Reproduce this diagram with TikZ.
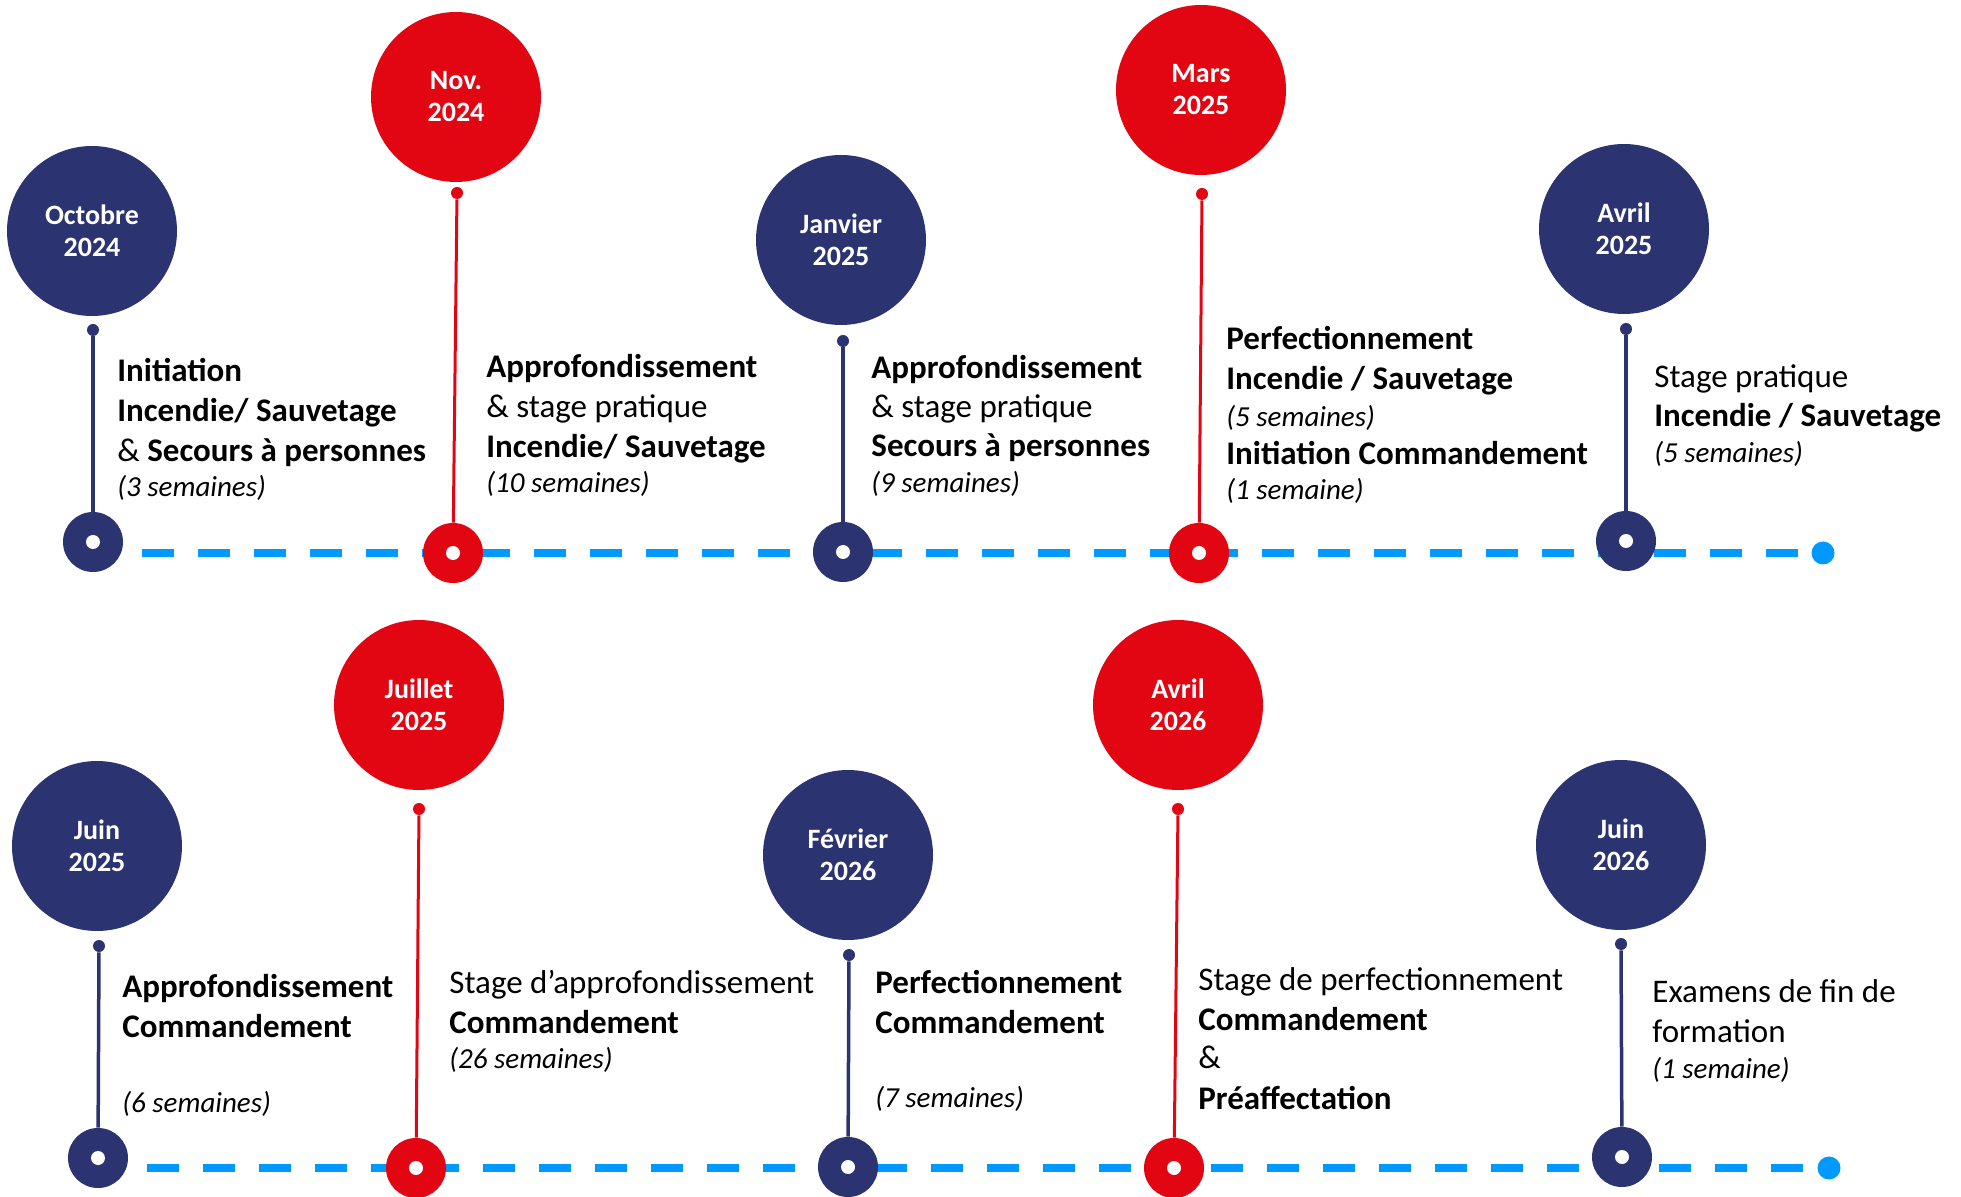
\documentclass[tikz,border=0pt]{standalone}
\usepackage{fontspec}
\setmainfont{Carlito}
\usepackage{tikz}
\definecolor{bleufonce}{RGB}{43,51,112}
\definecolor{rougevif}{RGB}{226,6,19}
\definecolor{bleuclair}{RGB}{0,153,255}
\newcommand{\sem}[1]{{\fontsize{14.5}{17}\selectfont\itshape(#1)}}

\begin{document}
\begin{tikzpicture}[x=0.5pt,y=-0.5pt]
    \tikzstyle{mois}=[circle, minimum size=85pt, inner sep=0pt, text=white, align=center, font=\fontsize{14}{16}\selectfont\bfseries]
    \tikzstyle{point}=[circle, inner sep=0pt, minimum size=6pt]
    \tikzstyle{jalon}=[circle, inner sep=0pt, minimum size=30pt, path picture={\fill[white] (path picture bounding box.center) circle (3.5pt);}]
    \tikzstyle{texte}=[anchor=base west, inner sep=0pt, align=left, font=\fontsize{16.5}{20}\selectfont]
    \tikzstyle{ligne}=[bleuclair, line width=4pt, dash pattern=on 16pt off 12pt]
    \tikzstyle{fin}=[circle, fill=bleuclair, inner sep=0pt, minimum size=11.5pt]
    \useasboundingbox (0,0) rectangle (1961,1197);

    \coordinate (s1) at (142,553);
    \node[fin] (e1) at (1823,553) {};
    \coordinate (s2) at (147,1168);
    \node[fin] (e2) at (1829,1168) {};
    \draw[ligne] (s1) -- (e1);
    \draw[ligne] (s2) -- (e2);

    \node[mois, fill=bleufonce] (oct24) at (92,231) {Octobre\\2024};
    \node[point, fill=bleufonce] (oct24d) at (93,330) {};
    \node[jalon, fill=bleufonce] (oct24m) at (93,542) {};
    \node[texte] (oct24t) at (117,497) {\textbf{Initiation}\\\textbf{Incendie/ Sauvetage}\\\& \textbf{Secours à personnes}\\[-2.5pt]\sem{3 semaines}};

    \node[mois, fill=rougevif] (nov24) at (456,97) {Nov.\\2024};
    \node[point, fill=rougevif] (nov24d) at (457,193) {};
    \node[jalon, fill=rougevif] (nov24m) at (453,553) {};
    \node[texte] (nov24t) at (486,493) {\textbf{Approfondissement}\\\& stage pratique\\\textbf{Incendie/ Sauvetage}\\[-2.5pt]\sem{10 semaines}};

    \node[mois, fill=bleufonce] (jan25) at (841,240) {Janvier\\2025};
    \node[point, fill=bleufonce] (jan25d) at (843,341) {};
    \node[jalon, fill=bleufonce] (jan25m) at (843,552) {};
    \node[texte] (jan25t) at (871,493) {\textbf{Approfondissement}\\[-0.5pt]\& stage pratique\\[-0.5pt]\textbf{Secours à personnes}\\[-2pt]\sem{9 semaines}};

    \node[mois, fill=rougevif] (mar25) at (1201,90) {Mars\\2025};
    \node[point, fill=rougevif] (mar25d) at (1202,194) {};
    \node[jalon, fill=rougevif] (mar25m) at (1199,553) {};
    \node[texte] (mar25t) at (1226,500) {\textbf{Perfectionnement}\\\textbf{Incendie / Sauvetage}\\[-1.5pt]\sem{5 semaines}\\[-1pt]\textbf{Initiation Commandement}\\[-2.5pt]\sem{1 semaine}};

    \node[mois, fill=bleufonce] (avr25) at (1624,229) {Avril\\2025};
    \node[point, fill=bleufonce] (avr25d) at (1626,329) {};
    \node[jalon, fill=bleufonce] (avr25m) at (1626,541) {};
    \node[texte] (avr25t) at (1654,463) {Stage pratique\\[-0.5pt]\textbf{Incendie / Sauvetage}\\[-2pt]\sem{5 semaines}};

    \node[mois, fill=bleufonce] (jun25) at (97,846) {Juin\\2025};
    \node[point, fill=bleufonce] (jun25d) at (99,946) {};
    \node[jalon, fill=bleufonce] (jun25m) at (98,1158) {};
    \node[texte] (jun25t) at (122,1112) {\textbf{Approfondissement}\\\textbf{Commandement}\\[17.5pt]\sem{6 semaines}};

    \node[mois, fill=rougevif] (jul25) at (419,705) {Juillet\\2025};
    \node[point, fill=rougevif] (jul25d) at (419,809) {};
    \node[jalon, fill=rougevif] (jul25m) at (416,1168) {};
    \node[texte] (jul25t) at (449,1068) {Stage d’approfondissement\\\textbf{Commandement}\\[-2.5pt]\sem{26 semaines}};

    \node[mois, fill=bleufonce] (fev26) at (848,855) {Février\\2026};
    \node[point, fill=bleufonce] (fev26d) at (849,955) {};
    \node[jalon, fill=bleufonce] (fev26m) at (848,1167) {};
    \node[texte] (fev26t) at (875,1107) {\textbf{Perfectionnement}\\\textbf{Commandement}\\[17pt]\sem{7 semaines}};

    \node[mois, fill=rougevif] (avr26) at (1178,705) {Avril\\2026};
    \node[point, fill=rougevif] (avr26d) at (1178,809) {};
    \node[jalon, fill=rougevif] (avr26m) at (1174,1168) {};
    \node[texte] (avr26t) at (1198,1109) {Stage de perfectionnement\\\textbf{Commandement}\\[-1pt]\&\\[0.5pt]\textbf{Préaffectation}};

    \node[mois, fill=bleufonce] (jun26) at (1621,845) {Juin\\2026};
    \node[point, fill=bleufonce] (jun26d) at (1621,944) {};
    \node[jalon, fill=bleufonce] (jun26m) at (1622,1157) {};
    \node[texte] (jun26t) at (1652,1078) {Examens de fin de\\formation\\[-2pt]\sem{1 semaine}};

    \foreach \n in {oct24,jan25,avr25,jun25,fev26,jun26}
        \draw[bleufonce, line width=1.75pt] (\n d) -- (\n m);
    \foreach \n in {nov24,mar25,jul25,avr26}
        \draw[rougevif, line width=1.5pt] (\n d) -- (\n m);
\end{tikzpicture}
\end{document}
